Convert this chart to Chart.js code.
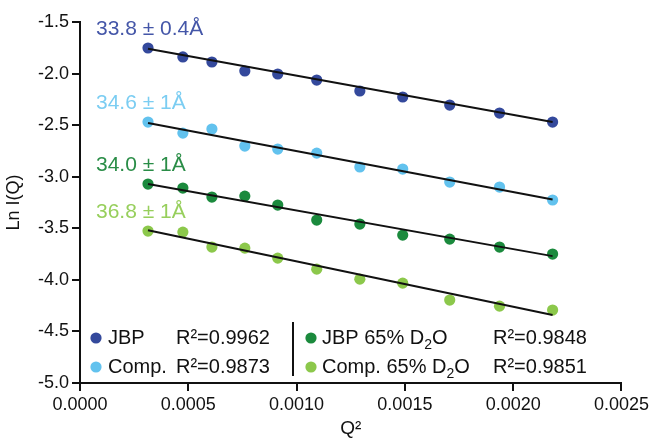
<!DOCTYPE html>
<html>
<head>
<meta charset="utf-8">
<script src="https://cdn.jsdelivr.net/npm/chart.js@4.4.0/dist/chart.umd.min.js"></script>
<style>
  html, body { margin: 0; padding: 0; background: #ffffff; }
  #wrap { width: 652px; height: 438px; position: relative; }
</style>
</head>
<body>
<div id="wrap"><canvas id="c" width="652" height="438"></canvas></div>
<script>
// ---- data ----
const qSquared = [0.000314, 0.000475, 0.000609, 0.000761, 0.000913, 0.001093, 0.001292, 0.00149, 0.001707, 0.001937, 0.002182];

const lnI_JBP      = [-1.752, -1.839, -1.888, -1.975, -2.004, -2.063, -2.169, -2.227, -2.305, -2.383, -2.470];
const lnI_Comp     = [-2.470, -2.577, -2.538, -2.703, -2.732, -2.771, -2.906, -2.926, -3.052, -3.100, -3.226];
const lnI_JBP_D2O  = [-3.071, -3.110, -3.197, -3.188, -3.275, -3.420, -3.459, -3.566, -3.605, -3.682, -3.750];
const lnI_Comp_D2O = [-3.527, -3.537, -3.682, -3.692, -3.789, -3.896, -3.993, -4.032, -4.196, -4.255, -4.293];

// fitted line end values (at first and last Q²)
const fit_JBP      = [-1.76, -2.47];
const fit_Comp     = [-2.48, -3.22];
const fit_JBP_D2O  = [-3.07, -3.77];
const fit_Comp_D2O = [-3.52, -4.34];

const seriesNames  = ['JBP', 'Comp.', 'JBP 65% D2O', 'Comp. 65% D2O'];
const rSquared     = ['0.9962', '0.9873', '0.9848', '0.9851'];
const rgLabels     = ['33.8 ± 0.4Å', '34.6 ± 1Å', '34.0 ± 1Å', '36.8 ± 1Å'];

const xTicks = [0, 0.0005, 0.0010, 0.0015, 0.0020, 0.0025];
const yTicks = [-1.5, -2.0, -2.5, -3.0, -3.5, -4.0, -4.5, -5.0];

// ---- styling ----
const colors     = ['#34499c', '#62c2ee', '#1b8a3d', '#8cc84b'];
const textColors = ['#4456a8', '#7bcdf2', '#2a8d47', '#97cf5c'];
const FONT = '"Liberation Sans", Arial, Helvetica, sans-serif';
const INK = '#111111';

const allSeries = [lnI_JBP, lnI_Comp, lnI_JBP_D2O, lnI_Comp_D2O];
const allFits   = [fit_JBP, fit_Comp, fit_JBP_D2O, fit_Comp_D2O];

const datasets = [];
allSeries.forEach((s, i) => {
  datasets.push({
    label: seriesNames[i],
    data: qSquared.map((q, k) => ({ x: q, y: s[k] })),
    backgroundColor: colors[i],
    borderColor: colors[i],
    pointRadius: 5.6,
    pointBorderWidth: 0,
    showLine: false,
    order: 2
  });
});
allFits.forEach((f, i) => {
  datasets.push({
    label: seriesNames[i] + ' fit',
    data: [{ x: qSquared[0], y: f[0] }, { x: qSquared[qSquared.length - 1], y: f[1] }],
    borderColor: INK,
    borderWidth: 2,
    pointRadius: 0,
    showLine: true,
    fill: false,
    order: 1
  });
});

// plugin: Rg annotations + custom legend
const overlay = {
  id: 'overlay',
  afterDatasetsDraw(chart) {
    const ctx = chart.ctx;
    const xs = chart.scales.x, ys = chart.scales.y;
    ctx.save();
    ctx.font = '21px ' + FONT;
    ctx.textBaseline = 'middle';
    ctx.textAlign = 'left';
    allSeries.forEach((s, i) => {
      const px = xs.getPixelForValue(qSquared[0]) - 52;
      const py = ys.getPixelForValue(s[0]) - 19;
      ctx.fillStyle = textColors[i];
      ctx.fillText(rgLabels[i], px, py);
    });

    // legend
    const rows = [338, 367];
    const cols = [{ dot: 96, name: 108, r2: 176 }, { dot: 311, name: 322, r2: 493 }];
    for (let i = 0; i < 4; i++) {
      const col = cols[Math.floor(i / 2)];
      const y = rows[i % 2];
      ctx.beginPath();
      ctx.fillStyle = colors[i];
      ctx.arc(col.dot, y, 5.6, 0, Math.PI * 2);
      ctx.fill();
      ctx.fillStyle = INK;
      ctx.font = '20px ' + FONT;
      const name = seriesNames[i];
      if (name.indexOf('D2O') >= 0) {
        const pre = name.replace('D2O', 'D');
        let x = col.name;
        ctx.fillText(pre, x, y);
        x += ctx.measureText(pre).width;
        ctx.font = '14px ' + FONT;
        ctx.fillText('2', x, y + 7);
        x += ctx.measureText('2').width;
        ctx.font = '20px ' + FONT;
        ctx.fillText('O', x, y);
      } else {
        ctx.fillText(name, col.name, y);
      }
      ctx.fillText('R²=' + rSquared[i], col.r2, y);
    }
    // separator
    ctx.strokeStyle = INK;
    ctx.lineWidth = 2;
    ctx.beginPath();
    ctx.moveTo(293, 322);
    ctx.lineTo(293, 376);
    ctx.stroke();
    ctx.restore();
  }
};

new Chart(document.getElementById('c'), {
  type: 'scatter',
  data: { datasets },
  plugins: [overlay],
  options: {
    responsive: false,
    animation: false,
    devicePixelRatio: 1,
    layout: { padding: { top: 22, right: 30, bottom: 0, left: 0 } },
    plugins: { legend: { display: false }, tooltip: { enabled: false } },
    scales: {
      x: {
        type: 'linear',
        min: 0, max: 0.0025,
        afterBuildTicks: (s) => { s.ticks = xTicks.map(v => ({ value: v })); },
        afterFit: (s) => { s.height = 55; },
        ticks: {
          color: INK,
          font: { family: FONT, size: 18 },
          padding: 3,
          maxRotation: 0,
          callback: (v) => Number(v).toFixed(4)
        },
        grid: { drawOnChartArea: false, drawTicks: true, tickLength: 8, color: INK, lineWidth: 2 },
        border: { display: true, color: INK, width: 2 },
        title: { display: true, text: 'Q²', color: INK, font: { family: FONT, size: 19, lineHeight: 1.0 }, padding: { top: 0, bottom: 0 } }
      },
      y: {
        type: 'linear',
        min: -5.0, max: -1.5,
        afterBuildTicks: (s) => { s.ticks = yTicks.map(v => ({ value: v })); },
        afterFit: (s) => { s.width = 80; },
        ticks: {
          color: INK,
          font: { family: FONT, size: 18 },
          padding: 3,
          callback: (v) => Number(v).toFixed(1)
        },
        grid: { drawOnChartArea: false, drawTicks: true, tickLength: 8, color: INK, lineWidth: 2 },
        border: { display: true, color: INK, width: 2 },
        title: { display: true, text: 'Ln I(Q)', color: INK, font: { family: FONT, size: 18 }, padding: { top: 3, bottom: 0 } }
      }
    }
  }
});
</script>
</body>
</html>
